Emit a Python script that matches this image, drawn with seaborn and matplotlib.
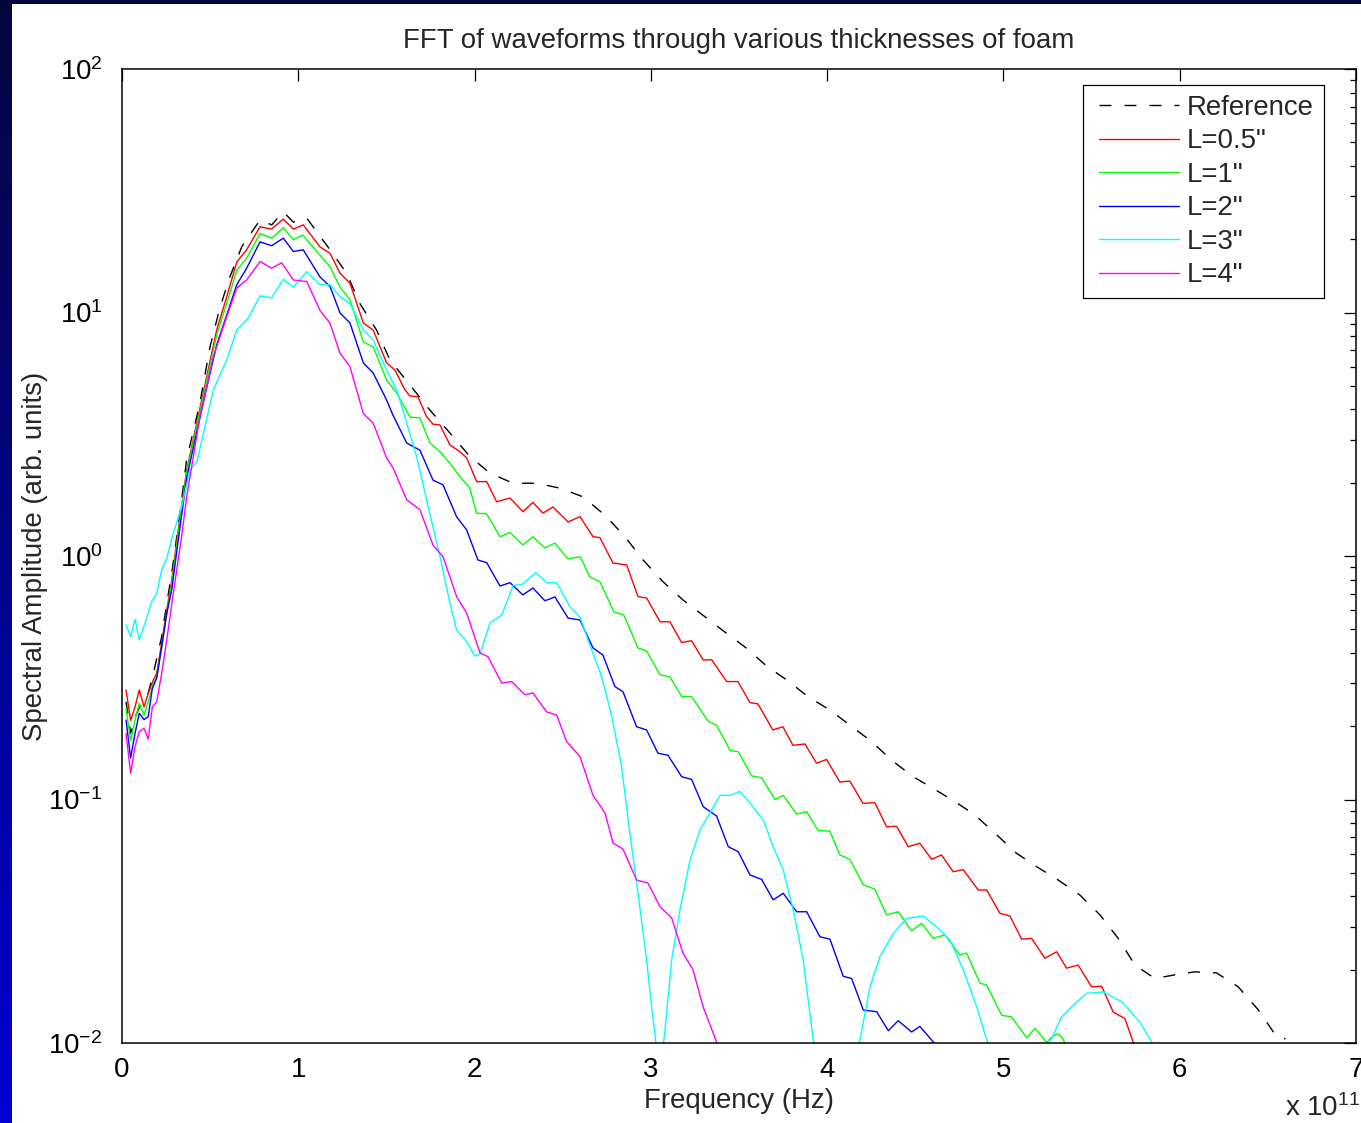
import numpy as np
import pandas as pd
import matplotlib
matplotlib.use("Agg")
import matplotlib.pyplot as plt
from matplotlib.ticker import FixedLocator, FixedFormatter, LogLocator, NullFormatter
from matplotlib.patches import Rectangle
from matplotlib.lines import Line2D
from matplotlib.legend_handler import HandlerLine2D
from matplotlib.colors import LinearSegmentedColormap
import seaborn as sns

# ---------------- data (frequency in units of 1e11 Hz, spectral amplitude) ----------------
reference = [(0.023,0.252),(0.049,0.187),(0.083,0.226),(0.121,0.256),(0.149,0.274),(0.178,0.330),
    (0.225,0.466),(0.254,0.639),(0.282,0.849),(0.329,1.50),(0.367,2.50),(0.442,4.25),(0.499,7.22),
    (0.556,10.5),(0.612,14.0),(0.679,18.6),(0.783,24.0),(0.849,22.9),(0.915,25.9),(0.972,23.5),
    (1.048,24.4),(1.161,18.9),(1.274,14.5),(1.349,10.9),(1.444,8.47),(1.520,6.38),(1.643,4.94),
    (1.746,3.98),(1.860,3.20),(1.974,2.56),(2.087,2.19),(2.218,1.99),(2.352,1.99),(2.484,1.90),
    (2.615,1.75),(2.740,1.47),(2.853,1.20),(2.956,0.963),(3.069,0.784),(3.182,0.660),(3.307,0.563),
    (3.430,0.481),(3.543,0.418),(3.657,0.353),(3.770,0.310),(3.893,0.264),(4.016,0.233),(4.129,0.202),
    (4.252,0.173),(4.366,0.145),(4.488,0.124),(4.602,0.111),(4.725,0.098),(4.838,0.0864),(4.952,0.0727),
    (5.075,0.0601),(5.188,0.0530),(5.311,0.0467),(5.434,0.0405),(5.547,0.0336),(5.651,0.0269),
    (5.746,0.0209),(5.859,0.0184),(5.963,0.0190),(6.086,0.0196),(6.209,0.0194),(6.332,0.0170),
    (6.445,0.0137),(6.550,0.0106),(6.600,0.0104)]

foam_05 = [(0.023,0.282),(0.049,0.211),(0.074,0.240),(0.098,0.282),(0.125,0.240),(0.149,0.273),
    (0.178,0.310),(0.197,0.330),(0.225,0.438),(0.254,0.600),(0.282,0.797),(0.319,1.28),(0.367,2.25),
    (0.424,3.52),(0.480,5.43),(0.537,8.47),(0.594,11.6),(0.651,16.1),(0.707,18.1),(0.783,22.5),
    (0.849,22.0),(0.915,24.2),(0.972,22.0),(1.028,22.9),(1.123,18.6),(1.180,17.5),(1.237,14.5),
    (1.293,13.2),(1.369,9.06),(1.425,8.47),(1.501,6.21),(1.548,5.81),(1.605,4.81),(1.634,4.54),
    (1.679,4.51),(1.728,3.73),(1.764,3.48),(1.804,3.45),(1.860,2.86),(1.917,2.68),(1.955,2.53),
    (2.012,2.02),(2.069,2.02),(2.125,1.67),(2.201,1.73),(2.274,1.52),(2.331,1.66),(2.388,1.50),
    (2.445,1.59),(2.530,1.38),(2.598,1.45),(2.672,1.20),(2.711,1.19),(2.785,0.936),(2.863,0.919),
    (2.927,0.681),(2.976,0.672),(3.052,0.537),(3.108,0.537),(3.175,0.441),(3.231,0.449),(3.297,0.374),
    (3.345,0.375),(3.430,0.305),(3.494,0.305),(3.562,0.250),(3.607,0.247),(3.692,0.193),(3.749,0.199),
    (3.806,0.167),(3.874,0.169),(3.940,0.141),(3.997,0.146),(4.072,0.118),(4.129,0.119),(4.203,0.0965),
    (4.271,0.097),(4.337,0.0773),(4.394,0.0776),(4.460,0.0640),(4.526,0.0661),(4.593,0.0568),
    (4.649,0.0592),(4.715,0.0505),(4.772,0.0515),(4.857,0.0425),(4.905,0.0425),(4.980,0.0341),
    (5.037,0.0332),(5.103,0.0267),(5.160,0.0269),(5.235,0.0223),(5.302,0.0237),(5.358,0.0203),
    (5.424,0.0209),(5.500,0.0170),(5.557,0.0171),(5.623,0.0134),(5.689,0.0126),(5.736,0.0101),
    (5.770,0.0085)]

foam_1 = [(0.023,0.237),(0.049,0.175),(0.074,0.212),(0.098,0.248),(0.125,0.222),(0.149,0.252),
    (0.178,0.300),(0.197,0.319),(0.225,0.419),(0.254,0.578),(0.282,0.767),(0.319,1.23),(0.367,2.21),
    (0.424,3.42),(0.480,5.23),(0.537,8.09),(0.594,10.9),(0.651,14.9),(0.707,16.7),(0.783,21.1),
    (0.849,20.2),(0.915,22.3),(0.972,19.9),(1.025,20.8),(1.123,17.2),(1.180,15.4),(1.237,12.7),
    (1.293,11.3),(1.369,7.57),(1.425,7.22),(1.501,5.28),(1.558,4.67),(1.634,3.72),(1.690,3.69),
    (1.747,2.91),(1.804,2.68),(1.860,2.40),(1.917,2.12),(1.973,1.90),(2.011,1.50),(2.068,1.49),
    (2.144,1.20),(2.201,1.25),(2.274,1.11),(2.331,1.20),(2.399,1.08),(2.456,1.13),(2.530,0.972),
    (2.598,0.993),(2.654,0.822),(2.711,0.784),(2.791,0.589),(2.847,0.572),(2.927,0.419),(2.976,0.408),
    (3.052,0.325),(3.108,0.319),(3.175,0.265),(3.231,0.265),(3.326,0.209),(3.373,0.202),(3.449,0.159),
    (3.496,0.157),(3.572,0.125),(3.628,0.123),(3.704,0.100),(3.751,0.104),(3.827,0.0872),(3.884,0.0891),
    (3.949,0.0745),(4.016,0.0741),(4.072,0.0592),(4.129,0.0568),(4.205,0.0446),(4.271,0.0428),
    (4.337,0.0336),(4.403,0.0346),(4.479,0.0289),(4.536,0.0310),(4.602,0.0269),(4.668,0.0278),
    (4.753,0.0230),(4.791,0.0234),(4.867,0.0176),(4.905,0.0173),(4.990,0.0130),(5.046,0.0128),
    (5.132,0.0105),(5.179,0.0115),(5.245,0.01005),(5.269,0.0105),(5.303,0.0109),(5.332,0.0106),
    (5.354,0.0098),(5.377,0.0085)]

foam_2 = [(0.023,0.212),(0.049,0.148),(0.074,0.187),(0.098,0.226),(0.125,0.213),(0.149,0.219),
    (0.172,0.286),(0.197,0.315),(0.225,0.424),(0.254,0.582),(0.282,0.725),(0.319,1.16),(0.367,2.09),
    (0.424,3.23),(0.480,4.90),(0.537,7.35),(0.594,9.77),(0.651,13.0),(0.707,15.2),(0.783,19.5),
    (0.849,18.8),(0.915,20.2),(0.972,17.8),(1.028,18.1),(1.123,14.0),(1.180,12.8),(1.237,9.95),
    (1.293,9.06),(1.369,6.21),(1.425,5.64),(1.501,4.37),(1.537,3.79),(1.615,2.91),(1.690,2.72),
    (1.764,2.05),(1.821,1.96),(1.898,1.45),(1.955,1.28),(2.019,0.963),(2.069,0.939),(2.144,0.753),
    (2.201,0.777),(2.274,0.692),(2.331,0.739),(2.399,0.655),(2.456,0.679),(2.530,0.556),(2.598,0.546),
    (2.672,0.419),(2.728,0.392),(2.796,0.291),(2.842,0.277),(2.919,0.199),(2.976,0.193),(3.040,0.155),
    (3.097,0.152),(3.175,0.124),(3.231,0.121),(3.297,0.0934),(3.373,0.0855),(3.439,0.0640),
    (3.496,0.0610),(3.562,0.0490),(3.628,0.0470),(3.694,0.0387),(3.751,0.0412),(3.827,0.0346),
    (3.884,0.0346),(3.959,0.0273),(4.016,0.0267),(4.091,0.0188),(4.139,0.0184),(4.205,0.01366),
    (4.281,0.01344),(4.347,0.01123),(4.403,0.01235),(4.479,0.0111),(4.526,0.0117),(4.602,0.0101),
    (4.640,0.0089)]

foam_3 = [(0.023,0.521),(0.049,0.466),(0.074,0.550),(0.098,0.452),(0.130,0.529),(0.168,0.649),
    (0.197,0.703),(0.225,0.876),(0.254,0.978),(0.291,1.24),(0.338,1.59),(0.386,2.25),(0.424,2.43),
    (0.518,4.81),(0.594,6.38),(0.651,8.47),(0.716,9.49),(0.783,11.7),(0.849,11.5),(0.915,13.7),
    (0.972,12.7),(1.048,14.7),(1.123,13.0),(1.180,13.0),(1.237,11.6),(1.293,10.9),(1.369,8.47),
    (1.425,7.71),(1.501,5.81),(1.558,4.81),(1.615,3.52),(1.672,2.55),(1.728,1.70),(1.804,0.993),
    (1.860,0.641),(1.898,0.497),(1.955,0.445),(2.002,0.388),(2.031,0.396),(2.087,0.531),(2.154,0.572),
    (2.219,0.757),(2.269,0.764),(2.348,0.854),(2.409,0.777),(2.466,0.777),(2.541,0.619),(2.598,0.562),
    (2.654,0.431),(2.721,0.319),(2.778,0.220),(2.834,0.136),(2.881,0.0728),(2.927,0.0413),
    (2.976,0.0219),(3.006,0.0137),(3.023,0.0110),(3.049,0.00705),(3.080,0.0113),(3.118,0.0219),
    (3.165,0.0352),(3.222,0.0564),(3.279,0.0750),(3.335,0.0881),(3.392,0.104),(3.449,0.104),
    (3.505,0.108),(3.562,0.0968),(3.638,0.0824),(3.694,0.0640),(3.751,0.0513),(3.808,0.0352),
    (3.864,0.0219),(3.921,0.0103),(4.061,0.00531),(4.186,0.0103),(4.243,0.0170),(4.299,0.0226),
    (4.375,0.0282),(4.451,0.0325),(4.545,0.0332),(4.621,0.0300),(4.697,0.0265),(4.772,0.0200),
    (4.848,0.0141),(4.905,0.0103),(5.094,0.0053),(5.264,0.0101),(5.330,0.0128),(5.396,0.0143),
    (5.472,0.0160),(5.566,0.0162),(5.670,0.0148),(5.774,0.0122),(5.841,0.0101),(5.888,0.0081)]

foam_4 = [(0.023,0.187),(0.049,0.128),(0.074,0.165),(0.098,0.190),(0.125,0.196),(0.149,0.177),
    (0.172,0.240),(0.197,0.252),(0.225,0.330),(0.254,0.452),(0.291,0.703),(0.338,1.20),(0.367,1.75),
    (0.442,3.73),(0.518,6.58),(0.594,9.61),(0.651,12.6),(0.707,13.6),(0.783,16.2),(0.849,15.2),
    (0.906,16.0),(0.972,13.6),(1.048,13.4),(1.123,10.2),(1.180,9.03),(1.237,6.80),(1.293,5.99),
    (1.369,3.85),(1.425,3.51),(1.501,2.53),(1.539,2.29),(1.615,1.70),(1.690,1.55),(1.764,1.11),
    (1.821,0.993),(1.898,0.681),(1.955,0.583),(2.031,0.400),(2.076,0.386),(2.154,0.301),(2.210,0.305),
    (2.286,0.269),(2.331,0.274),(2.409,0.229),(2.466,0.222),(2.522,0.173),(2.598,0.150),(2.672,0.104),
    (2.740,0.0881),(2.785,0.0663),(2.842,0.0626),(2.919,0.0467),(2.983,0.0454),(3.052,0.0363),
    (3.118,0.0326),(3.182,0.0234),(3.239,0.0200),(3.296,0.0141),(3.373,0.0101),(3.392,0.0089)]

series_labels = ['Reference', 'L=0.5"', 'L=1"', 'L=2"', 'L=3"', 'L=4"']
series_colors = ['#000000', '#ff0000', '#00ff00', '#0000ff', '#00ffff', '#ff00ff']
series_data = [reference, foam_05, foam_1, foam_2, foam_3, foam_4]

x_ticks = [0, 1, 2, 3, 4, 5, 6, 7]
x_tick_labels = ['0', '1', '2', '3', '4', '5', '6', '7']
y_ticks = [1e-2, 1e-1, 1e0, 1e1, 1e2]
y_tick_labels = [r'$10^{-2}$', r'$10^{-1}$', r'$10^{0}$', r'$10^{1}$', r'$10^{2}$']

title_text = 'FFT of waveforms through various thicknesses of foam'
x_label = 'Frequency (Hz)'
y_label = 'Spectral Amplitude (arb. units)'
x_multiplier = r'x $10^{11}$'

# ---------------- style ----------------
sns.set_style('white')
plt.rcParams['font.family'] = ['Liberation Sans', 'DejaVu Sans']
plt.rcParams['mathtext.fontset'] = 'custom'
plt.rcParams['mathtext.rm'] = 'Liberation Sans'
plt.rcParams['mathtext.it'] = 'Liberation Sans:italic'
plt.rcParams['mathtext.bf'] = 'Liberation Sans:bold'
plt.rcParams['axes.unicode_minus'] = True

FS = 19.9
W, H = 1361, 1123
fig = plt.figure(figsize=(W / 100, H / 100), dpi=100)
fig.patch.set_facecolor('white')

# slide background: dark top band and blue gradient strip on the left
navy = '#06063e'
cmap = LinearSegmentedColormap.from_list('slide', [navy, '#0000d4'])
bg = fig.add_axes([0, 0, 12 / W, 1])
bg.imshow(np.linspace(0, 1, 256).reshape(-1, 1), aspect='auto', cmap=cmap,
          extent=[0, 1, 0, 1], origin='upper')
bg.set_axis_off()
fig.add_artist(Rectangle((0, 1 - 4 / H), 1, 4 / H, transform=fig.transFigure,
                         facecolor=navy, edgecolor='none'))

ax = fig.add_axes([122 / W, 80 / H, 1234 / W, 974 / H])
ax.set_facecolor('white')

frames = []
for label, pts in zip(series_labels, series_data):
    d = pd.DataFrame(pts, columns=['freq', 'amp'])
    d['series'] = label
    frames.append(d)
long_df = pd.concat(frames, ignore_index=True)

for label, color in zip(series_labels, series_colors):
    sub = long_df[long_df['series'] == label]
    sns.lineplot(data=sub, x='freq', y='amp', color=color, linewidth=1.0,
                 ax=ax, label=label, sort=False, estimator=None, errorbar=None)
    if label == 'Reference':
        ax.lines[-1].set_dashes((8.6, 9.4))

ax.set_yscale('log')
ax.set_xlim(0, 7)
ax.set_ylim(1e-2, 1e2)

ax.xaxis.set_major_locator(FixedLocator(x_ticks))
ax.xaxis.set_major_formatter(FixedFormatter(x_tick_labels))
ax.yaxis.set_major_locator(FixedLocator(y_ticks))
ax.yaxis.set_major_formatter(FixedFormatter(y_tick_labels))
ax.yaxis.set_minor_locator(LogLocator(base=10, subs=np.arange(2, 10)))
ax.yaxis.set_minor_formatter(NullFormatter())

ax.tick_params(which='both', direction='in', top=True, right=True, colors='black',
               width=0.9)
ax.tick_params(which='major', length=8.6, labelsize=FS)
ax.tick_params(which='minor', length=4.3)
ax.tick_params(axis='x', which='major', pad=10)
ax.tick_params(axis='y', which='major', pad=14)
for s in ax.spines.values():
    s.set_visible(True)
    s.set_color('black')
    s.set_linewidth(1.1)
ax.grid(False)

ax.set_title(title_text, fontsize=FS, y=(1043 - 48) / 974, pad=0)
ax.set_xlabel(x_label, fontsize=FS)
ax.xaxis.set_label_coords(0.5, (1043 - 1088) / 974)
ax.set_ylabel(y_label, fontsize=FS)
ax.yaxis.set_label_coords((48 - 122) / 1234, 0.5)

fig.text(1285 / W, 7 / H, x_multiplier, fontsize=FS, ha='left', va='baseline')

handles, labels = ax.get_legend_handles_labels()
leg = ax.legend(handles, labels, loc='upper right',
                bbox_to_anchor=((1324 - 122) / 1234, (1043 - 85) / 974),
                borderaxespad=0, fontsize=FS, frameon=True, fancybox=False,
                framealpha=1, edgecolor='black', handlelength=3.1,
                handletextpad=0.3, borderpad=0.36, labelspacing=0.27,
                handler_map={Line2D: HandlerLine2D(xpad=0.22)})
leg.get_frame().set_linewidth(0.9)

fig.savefig('out.png', dpi=100, facecolor=fig.get_facecolor())
